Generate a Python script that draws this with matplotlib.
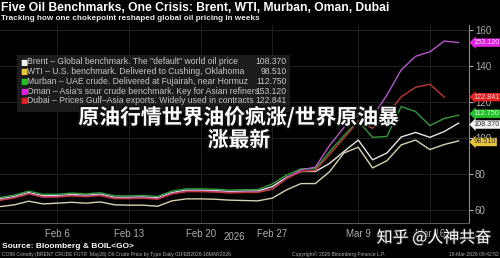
import numpy as np
import matplotlib.pyplot as plt
import matplotlib.patheffects as pe
from matplotlib.patches import Rectangle

# trading days 2 Feb 2026 .. 18 Mar 2026
days = np.arange(33)
tick_pos = [4, 9, 14, 19, 25, 30]
tick_labels = ['Feb 6', 'Feb 13', 'Feb 20', 'Feb 27', 'Mar 9', 'Mar 16']

brent = [66.3, 67.6, 69.8, 68.0, 68.1, 68.7, 68.3, 68.9, 67.2, 67.2, 67.4, 66.9,
         69.8, 71.1, 71.1, 70.9, 70.4, 70.6, 70.7, 73.1, 78.3, 81.5, 81.5, 86.0,
         92.6, 99.0, 88.0, 91.8, 100.7, 103.2, 100.5, 103.7, 108.37]
wti = [62.0, 63.0, 65.0, 63.5, 63.9, 64.4, 63.9, 64.6, 63.0, 62.8, 62.8, 62.2,
       65.2, 66.3, 66.3, 66.1, 65.6, 65.4, 65.2, 66.7, 71.3, 74.8, 74.8, 81.4,
       91.8, 95.0, 83.5, 87.5, 96.3, 99.0, 93.7, 96.5, 98.51]
murban = [67.1, 68.4, 70.6, 68.8, 68.9, 69.5, 69.1, 69.7, 68.0, 68.0, 68.2, 67.7,
          70.6, 71.9, 71.9, 71.7, 71.2, 71.4, 71.5, 74.6, 79.5, 83.0, 83.0, 92.5,
          101.5, 109.5, 100.5, 101.0, 117.6, 114.8, 107.0, 111.0, 112.75]
oman = [65.8, 67.1, 69.3, 67.5, 67.6, 68.2, 67.8, 68.4, 66.7, 66.7, 66.9, 66.4,
        69.3, 70.6, 70.6, 70.4, 69.9, 70.1, 70.2, 71.7, 78.0, 82.4, 83.9, 96.0,
        106.0, 113.0, 112.0, 124.0, 138.0, 145.5, 148.0, 154.0, 153.12]
dubai = [65.5, 66.8, 69.0, 67.2, 67.3, 67.9, 67.5, 68.1, 66.4, 66.4, 66.6, 66.1,
         69.0, 70.3, 70.3, 70.1, 69.6, 69.8, 69.9, 71.7, 77.5, 81.5, 82.0, 91.0,
         100.0, 109.5, 105.5, 113.0, 123.0, 128.3, 130.0, 122.841, np.nan]

descs = ['Brent \u2013 Global benchmark. The "default" world oil price',
         'WTI \u2013 U.S. benchmark. Delivered to Cushing, Oklahoma',
         'Murban \u2013 UAE crude. Delivered at Fujairah, near Hormuz',
         "Oman \u2013 Asia's sour crude benchmark. Key for Asian refiners",
         'Dubai \u2013 Prices Gulf\u2013Asia exports. Widely used in contracts']
last_vals = ['108.370', '98.510', '112.750', '153.120', '122.841']
series = [brent, wti, murban, oman, dubai]
line_colors = ['#e6e6e6', '#d9d2b0', '#2f9a3c', '#b458c8', '#c0383a']
box_colors = ['#f2f2f2', '#e8c43c', '#22c02a', '#e020e0', '#e02020']
box_text = ['#333333', '#333333', '#d8f5d8', '#f8d0f8', '#f8d0d0']
label_y = [107.6, 97.9, 113.6, 153.1, 122.8]

narrow = ['Liberation Sans', 'DejaVu Sans']
cjk = ['Noto Sans CJK SC', 'DejaVu Sans']

fig = plt.figure(figsize=(5, 2.58), dpi=100, facecolor='black')
ax = fig.add_axes([0, 0.1357, 0.9386, 0.7674], facecolor='black')

for s, c in zip(series, line_colors):
    ax.plot(days, s, color=c, lw=1.0)

ax.set_xlim(0, 32.75)
ax.set_ylim(52.9, 162.9)
ax.set_xticks(tick_pos)
ax.set_xticklabels(tick_labels)
ax.set_yticks([60, 80, 100, 120, 140, 160])
ax.yaxis.tick_right()
ax.tick_params(axis='x', colors='#b0b0b0', labelsize=7, length=0, pad=4)
ax.tick_params(axis='y', colors='#b0b0b0', labelsize=7, length=3, pad=1,
               direction='out')
for lab in ax.get_xticklabels() + ax.get_yticklabels():
    lab.set_family(narrow)
ax.grid(True, color='#262626', lw=0.6)
for side in ['top', 'left']:
    ax.spines[side].set_visible(False)
ax.spines['right'].set_color('#8a8a8a')
ax.spines['bottom'].set_color('#5a5a5a')
ax.spines['right'].set_linewidth(0.8)
ax.spines['bottom'].set_linewidth(0.8)

# value tags on the right axis
for v, t, bc, tc in zip(label_y, last_vals, box_colors, box_text):
    ax.annotate(t, xy=(1, v), xycoords=('axes fraction', 'data'),
                xytext=(3.2, 0), textcoords='offset points', va='center',
                ha='left', fontsize=5.2, color=tc, family=narrow,
                bbox=dict(boxstyle='larrow,pad=0.1', fc=bc, ec='none'),
                annotation_clip=False)

# legend box
ax.add_patch(Rectangle((17 / 469.3, 0.56), 273 / 469.3, 0.29,
                       transform=ax.transAxes, fc='#1c1c1c', ec='none', zorder=3))
for i, (d, v, c) in enumerate(zip(descs, last_vals, box_colors)):
    yy = 1 - (62 + i * 9.7) / 258
    fig.text(20 / 500, yy, '\u25a0', color=c, fontsize=5.5, va='center',
             family='DejaVu Sans')
    fig.text(27 / 500, yy, d, color='#c8c8c8', fontsize=6.2, va='center',
             family=narrow)
    fig.text(287 / 500, yy, v, color='#c8c8c8', fontsize=6.2, va='center',
             ha='right', family=narrow)

# titles and footer
fig.text(0.002, 1 - 8 / 258, 'Five Oil Benchmarks, One Crisis: Brent, WTI, Murban, Oman, Dubai',
         color='white', fontsize=8.7, fontweight='bold', va='center', family=narrow)
fig.text(0.002, 1 - 18 / 258, 'Tracking how one chokepoint reshaped global oil pricing in weeks',
         color='#e8e8e8', fontsize=5.9, fontweight='bold', va='center', family=narrow)
fig.text(234 / 500, 1 - 237 / 258, '2026', color='#b0b0b0', fontsize=7,
         ha='center', va='center', family=narrow)
fig.text(0.004, 1 - 246 / 258, 'Source: Bloomberg & BOIL<GO>', color='white',
         fontsize=6.0, fontweight='bold', va='center', family=narrow)
fig.text(0.004, 1 - 254.5 / 258,
         'CO66 Comdty (BRENT CRUDE FUTR  May26) Oil Crude Price by Type Daily 01FEB2026-18MAR2026',
         color='#b0b0b0', fontsize=3.6, va='center', family=narrow)
fig.text(339 / 500, 1 - 254.5 / 258, 'Copyright\u00a9 2026 Bloomberg Finance L.P.',
         color='#b0b0b0', fontsize=3.6, va='center', ha='center', family=narrow)
fig.text(0.998, 1 - 254.5 / 258, '18-Mar-2026 09:42:52', color='#b0b0b0',
         fontsize=3.6, va='center', ha='right', family=narrow)

# overlay caption
shadow = [pe.withStroke(linewidth=2.5, foreground='#111111')]
fig.text(239 / 500, 1 - 117 / 258, '原油行情世界油价疯涨/世界原油暴', color='white',
         fontsize=15, fontweight='bold', ha='center', va='center', family=cjk,
         path_effects=shadow)
fig.text(239 / 500, 1 - 140 / 258, '涨最新', color='white', fontsize=15,
         fontweight='bold', ha='center', va='center', family=cjk,
         path_effects=shadow)
fig.text(434 / 500, 1 - 238 / 258, '知乎 @人神共奋', color='white', fontsize=11.5,
         ha='center', va='center', family=cjk,
         path_effects=[pe.withStroke(linewidth=1.5, foreground='#222222')])

fig.savefig('out.png', dpi=100, facecolor='black')
